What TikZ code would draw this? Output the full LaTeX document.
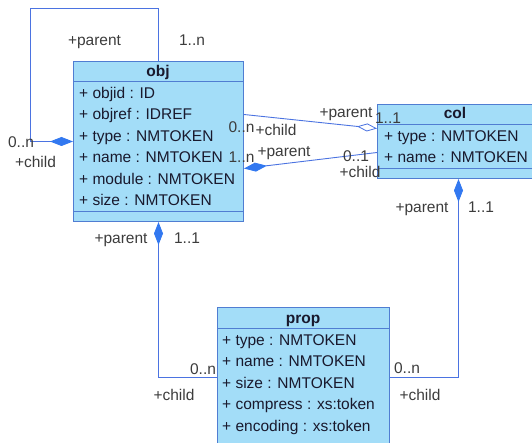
\documentclass[tikz,border=0pt]{standalone}
\usepackage{fontspec}
\setmainfont{Liberation Sans}
\usetikzlibrary{arrows.meta}
\definecolor{boxfill}{RGB}{163,221,248}
\definecolor{boxline}{RGB}{80,125,210}
\definecolor{connc}{RGB}{75,115,225}
\definecolor{diac}{RGB}{50,120,240}
\definecolor{txt}{RGB}{25,25,45}
\definecolor{lbl}{RGB}{60,60,60}
\begin{document}
\begin{tikzpicture}[x=1pt,y=-1pt,
  font=\fontsize{15.5}{18}\selectfont,
  umlbox/.style={draw=boxline, fill=boxfill, line width=1pt, rectangle, inner sep=0pt, anchor=north west},
  sepline/.style={draw=boxline, line width=1pt},
  attr/.style={anchor=base west, text=txt, inner sep=0pt},
  hdr/.style={anchor=base, text=txt, inner sep=0pt, font=\fontsize{15.5}{18}\selectfont\bfseries},
  link/.style={draw=connc, line width=0.9pt},
  lab/.style={anchor=base, text=lbl, inner sep=0pt},
  fdia/.tip={Diamond[length=23pt,width=9pt,fill=diac,color=diac]},
  odia/.tip={Diamond[length=20pt,width=8pt,fill=white,color=connc,line width=0.8pt]}
]
\useasboundingbox (0,0) rectangle (532,443);
\clip (0,0) rectangle (532,443);

% ---------- boxes ----------
\node[umlbox, minimum width=170pt, minimum height=160pt] (obj) at (73,61) {};
\draw[sepline] ([yshift=-21pt]obj.north west) -- ([yshift=-21pt]obj.north east);
\draw[sepline] ([yshift=10pt]obj.south west) -- ([yshift=10pt]obj.south east);
\node[hdr] (objh) at (158,77) {obj};
\node[attr] (o1) at (79,98.5) {+ objid : ID};
\node[attr] (o2) at (79,120) {+ objref : IDREF};
\node[attr] (o3) at (79,141.5) {+ type : NMTOKEN};
\node[attr] (o4) at (79,163) {+ name : NMTOKEN};
\node[attr] (o5) at (79,184.5) {+ module : NMTOKEN};
\node[attr] (o6) at (79,205.5) {+ size : NMTOKEN};

\node[umlbox, minimum width=162pt, minimum height=74pt] (col) at (377,104) {};
\draw[sepline] ([yshift=-21pt]col.north west) -- ([yshift=-21pt]col.north east);
\draw[sepline] ([yshift=10pt]col.south west) -- ([yshift=10pt]col.south east);
\node[hdr] (colh) at (455,119) {col};
\node[attr] (c1) at (384,142) {+ type : NMTOKEN};
\node[attr] (c2) at (384,163) {+ name : NMTOKEN};

\node[umlbox, minimum width=172pt, minimum height=140pt] (prop) at (217,307) {};
\draw[sepline] ([yshift=-21pt]prop.north west) -- ([yshift=-21pt]prop.north east);
\draw[sepline] ([yshift=-136pt]prop.north west) -- ([yshift=-136pt]prop.north east);
\node[hdr] (proph) at (303,323) {prop};
\node[attr] (p1) at (222,345) {+ type : NMTOKEN};
\node[attr] (p2) at (222,366.5) {+ name : NMTOKEN};
\node[attr] (p3) at (222,388) {+ size : NMTOKEN};
\node[attr] (p4) at (222,409.5) {+ compress : xs:token};
\node[attr] (p5) at (222,431) {+ encoding : xs:token};

% ---------- connectors ----------
\coordinate (lt) at (30,8);
\draw[link, -fdia] (obj.north) |- (lt) |- (obj.west);
\draw[link, -odia] ([yshift=27pt]obj.east) -- ([yshift=13pt]col.west);
\draw[link, -fdia] ([yshift=-11pt]col.west) -- ([yshift=-27pt]obj.east);
\draw[link, fdia-] (obj.south) |- (prop.west);
\draw[link, fdia-] (col.south) |- (prop.east);

% ---------- labels ----------
\node[lab] (l1) at (94.5,46) {+parent};
\node[lab] (l2) at (192,46) {1..n};
\node[lab] (l3) at (21,148) {0..n};
\node[lab] (l4) at (35.5,168) {+child};

\node[lab] (l5) at (241.5,133) {0..n};
\node[lab] (l6) at (276,136) {+child};
\node[lab] (l7) at (346,118) {+parent};
\node[lab] (l8) at (388,124) {1..1};

\node[lab] (l9) at (241.5,163) {1..n};
\node[lab] (l10) at (284,157) {+parent};
\node[lab] (l11) at (356,162) {0..1};
\node[lab] (l12) at (360,178) {+child};

\node[lab] (l13) at (121,244) {+parent};
\node[lab] (l14) at (187,244) {1..1};
\node[lab] (l15) at (203,374) {0..n};
\node[lab] (l16) at (174,400) {+child};

\node[lab] (l17) at (422,213) {+parent};
\node[lab] (l18) at (481,213) {1..1};
\node[lab] (l19) at (407,373) {0..n};
\node[lab] (l20) at (420,400) {+child};
\end{tikzpicture}
\end{document}
